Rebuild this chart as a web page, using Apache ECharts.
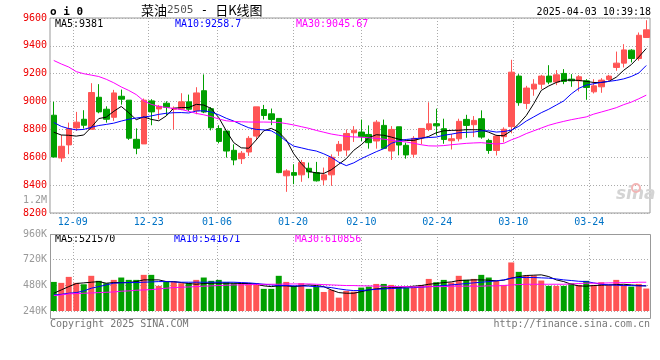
<!DOCTYPE html>
<html>
<head>
<meta charset="utf-8">
<script src="https://cdn.jsdelivr.net/npm/echarts/dist/echarts.min.js"></script>
<style>html,body{margin:0;padding:0;background:#fff;}#c{width:660px;height:360px;}</style>
</head>
<body>
<div id="c"></div>
<script>
const dates = ['12-04','12-05','12-06','12-09','12-10','12-11','12-12','12-13','12-16','12-17','12-18','12-19','12-20','12-23','12-24','12-25','12-26','12-27','12-30','12-31','01-02','01-03','01-06','01-07','01-08','01-09','01-10','01-13','01-14','01-15','01-16','01-17','01-20','01-21','01-22','01-23','01-24','01-27','02-05','02-06','02-07','02-10','02-11','02-12','02-13','02-14','02-17','02-18','02-19','02-20','02-21','02-24','02-25','02-26','02-27','02-28','03-03','03-04','03-05','03-06','03-07','03-10','03-11','03-12','03-13','03-14','03-17','03-18','03-19','03-20','03-21','03-24','03-25','03-26','03-27','03-28','03-31','04-01','04-02','04-03'];
const labelDates = ['12-09','12-23','01-06','01-20','02-10','02-24','03-10','03-24'];

const open = [8902,8595,8689,8811,8873,8801,9031,8945,8887,9038,
  9010,8729,8696,9005,8947,8988,8945,8945,8998,8935,
  9078,8949,8807,8788,8650,8590,8638,8752,8943,8912,
  8879,8467,8490,8474,8521,8490,8438,8474,8645,8652,
  8776,8781,8764,8717,8829,8645,8819,8686,8622,8740,
  8800,8841,8805,8719,8733,8872,8834,8877,8721,8649,
  8748,8820,9183,8987,9090,9125,9183,9140,9202,9161,
  9149,9149,9070,9106,9159,9245,9276,9369,9309,9460];
const close = [8602,8679,8806,8852,8830,9065,8926,8873,9062,9017,
  8737,8665,9010,8926,8966,8959,8952,8998,8945,9062,
  8925,8812,8714,8645,8581,8629,8736,8962,8900,8871,
  8490,8502,8471,8562,8495,8431,8474,8600,8693,8771,
  8795,8748,8705,8852,8664,8800,8688,8617,8736,8807,
  8840,8826,8728,8733,8858,8829,8865,8745,8649,8752,
  8801,9211,8992,9097,9125,9183,9140,9192,9144,9149,
  9178,9101,9113,9154,9183,9276,9371,9309,9476,9515];
const low = [8600,8567,8622,8789,8806,8801,8916,8849,8861,8978,
  8725,8622,8696,8830,8873,8902,8800,8938,8931,8909,
  8917,8793,8700,8598,8543,8552,8610,8724,8871,8831,
  8486,8352,8407,8424,8450,8426,8400,8395,8610,8610,
  8710,8717,8662,8662,8664,8581,8614,8590,8598,8693,
  8788,8757,8697,8656,8714,8740,8745,8733,8625,8613,
  8707,8772,8970,8946,9042,9090,9125,9118,9125,9106,
  9073,9013,9058,9063,9149,9221,9245,9281,9293,9460];
const high = [8998,8760,8849,8926,8938,9132,9125,8966,9084,9086,
  9010,8808,9022,9017,8976,9002,8965,9060,9050,9103,
  9195,8960,8830,8788,8693,8645,8752,8962,8976,8950,
  8879,8514,8550,8581,8562,8567,8526,8621,8717,8800,
  8824,8871,8829,8867,8871,8824,8819,8705,8752,8807,
  8995,8949,8877,8767,8877,8905,8896,8937,8733,8762,
  8815,9300,9197,9113,9161,9192,9261,9226,9233,9197,
  9190,9161,9161,9168,9192,9359,9412,9376,9496,9584];

const ma5 = [8780,8760,8758,8752,8760,8815,8878,8888,8930,8965,
  8920,8870,8890,8872,8862,8897,8952,8957,8957,8980,
  8975,8950,8885,8790,8705,8668,8665,8725,8790,8808,
  8780,8725,8625,8555,8498,8488,8484,8510,8550,8590,
  8650,8690,8740,8762,8758,8745,8730,8721,8721,8735,
  8750,8776,8790,8793,8794,8798,8798,8797,8780,8757,
  8755,8790,8840,8900,8985,9080,9112,9137,9154,9154,
  9152,9145,9137,9137,9145,9175,9225,9265,9320,9381];
const ma10 = [8850,8822,8806,8797,8800,8815,8828,8836,8845,8860,
  8873,8882,8888,8897,8908,8916,8920,8921,8918,8932,
  8934,8925,8905,8880,8860,8835,8812,8800,8797,8790,
  8760,8715,8680,8668,8655,8645,8625,8600,8565,8540,
  8560,8590,8615,8640,8662,8700,8718,8728,8733,8738,
  8742,8745,8758,8766,8776,8779,8781,8790,8790,8781,
  8785,8795,8822,8860,8890,8920,8945,8975,9005,9055,
  9095,9118,9128,9138,9145,9152,9163,9180,9205,9259];
const ma30 = [9295,9270,9248,9215,9200,9190,9180,9160,9135,9105,
  9080,9050,9005,8980,8965,8958,8950,8943,8930,8915,
  8905,8892,8875,8862,8857,8855,8853,8853,8853,8852,
  8850,8842,8832,8820,8808,8793,8780,8767,8758,8750,
  8746,8744,8740,8736,8730,8722,8715,8710,8700,8690,
  8682,8681,8684,8690,8695,8700,8703,8705,8700,8695,
  8700,8725,8745,8770,8790,8810,8830,8845,8858,8870,
  8880,8890,8910,8925,8940,8956,8978,8996,9020,9046];

// volume in thousands
const volume = [512,503,559,503,490,569,522,500,531,553,
  531,531,578,578,475,515,515,500,500,531,
  553,522,531,509,500,500,500,500,447,447,
  569,512,475,500,447,468,418,437,365,428,
  421,459,468,493,493,484,468,459,459,484,
  540,509,531,506,569,531,540,578,553,522,
  484,694,606,572,572,525,475,475,475,500,
  484,522,484,509,484,531,484,468,493,450];
const volMa5 = [406,437,468,497,503,509,515,500,506,506,
  506,515,531,531,531,515,515,506,497,490,
  497,500,500,500,500,497,497,490,475,468,
  475,475,468,475,484,478,468,437,412,406,
  406,421,437,447,453,459,459,465,472,478,
  490,497,506,512,525,528,531,531,528,522,
  528,547,562,572,575,578,562,531,515,490,
  475,472,478,481,484,487,490,484,478,475];
const volMa10 = [390,396,406,412,428,453,468,484,500,503,
  506,506,509,512,515,515,512,509,509,509,
  509,509,509,509,509,506,503,497,490,484,
  478,478,475,475,472,468,465,459,447,437,
  431,431,437,443,447,450,453,456,459,462,
  468,472,478,484,490,497,503,509,515,522,
  531,547,553,553,553,550,547,540,531,525,
  518,515,503,490,484,481,478,478,475,475];
const volMa30 = [384,390,400,403,406,409,412,415,418,425,
  428,434,437,440,447,453,459,462,465,468,
  472,475,478,481,484,484,487,487,490,490,
  490,493,493,493,493,490,487,484,481,478,
  478,475,475,472,472,468,468,468,465,465,
  468,468,468,472,472,472,472,472,475,475,
  478,484,487,490,490,490,490,490,490,493,
  497,500,500,500,503,503,506,506,509,509];

const priceMaTexts = ['MA5:9381','MA10:9258.7','MA30:9045.67'];
const volMaTexts = ['MA5:521570','MA10:541671','MA30:610856'];
const timeText = '2025-04-03 10:39:18';

const UP = '#ff5555', DOWN = '#00a000';
const MONO = 'DejaVu Sans Mono';
const labelSet = new Set(labelDates);
const pick = (i, v) => labelSet.has(v);
const dotted = { color: '#aaa', type: [1, 2], width: 1 };

const kData = dates.map((d, i) => [open[i], close[i], low[i], high[i]]);
const volData = dates.map((d, i) => ({
  value: volume[i] * 1000,
  itemStyle: { color: close[i] >= open[i] ? UP : DOWN }
}));
const k = a => a.map(v => v * 1000);

function txt(text, pos, style) {
  return Object.assign({ text: text, padding: 0, itemGap: 0,
    textStyle: Object.assign({ fontFamily: MONO, fontSize: 10, fontWeight: 'normal', color: '#000', lineHeight: 12 }, style || {}) }, pos);
}

const chart = echarts.init(document.getElementById('c'));
chart.setOption({
  animation: false,
  backgroundColor: '#fff',
  title: [
    txt('o i 0', { left: 50, top: 5 }, { fontWeight: 'bold', fontSize: 11, lineHeight: 14 }),
    { text: '{c|菜油}{n|2505}{d| - }{c|日K线图}', left: 141, top: 2, padding: 0,
      textStyle: { fontWeight: 'normal', rich: {
        c: { fontFamily: 'Noto Sans CJK SC', fontSize: 13, fontWeight: 'normal', color: '#000', lineHeight: 17 },
        n: { fontFamily: MONO, fontSize: 11, fontWeight: 'normal', color: '#555', lineHeight: 17 },
        d: { fontFamily: MONO, fontSize: 12, fontWeight: 'normal', color: '#000', lineHeight: 17 } } } },
    txt(timeText, { right: 9, top: 6 }),
    txt(priceMaTexts[0], { left: 55, top: 18 }, { color: '#000' }),
    txt(priceMaTexts[1], { left: 175, top: 18 }, { color: '#0000ff' }),
    txt(priceMaTexts[2], { left: 296, top: 18 }, { color: '#ff00ff' }),
    txt(volMaTexts[0], { left: 55, top: 233 }, { color: '#000' }),
    txt(volMaTexts[1], { left: 174, top: 233 }, { color: '#0000ff' }),
    txt(volMaTexts[2], { left: 295, top: 233 }, { color: '#ff00ff' }),
    txt('1.2M', { right: 613, top: 194 }, { color: '#999' }),
    txt('Copyright 2025 SINA.COM', { left: 50, top: 318 }, { color: '#777' }),
    txt('http://finance.sina.com.cn', { right: 10, top: 318 }, { color: '#777' }),
    { text: 'sina', left: 616, top: 186, padding: 0,
      textStyle: { fontFamily: 'DejaVu Sans', fontStyle: 'italic', fontWeight: 'bold', fontSize: 17, color: '#d4d4d4' } }
  ],
  graphic: [
    { type: 'rect', silent: true, z: 100,
      shape: { x: 50.5, y: 234.5, width: 600, height: 84 },
      style: { fill: 'none', stroke: '#999', lineWidth: 1 } },
    { type: 'circle', silent: true, z: 100,
      shape: { cx: 636, cy: 188, r: 4 },
      style: { fill: 'none', stroke: '#f3b5b5', lineWidth: 2 } }
  ],
  grid: [
    { left: 50, top: 18, width: 600, height: 195, show: true, borderColor: '#999', borderWidth: 1, backgroundColor: 'transparent' },
    { left: 50, top: 234, width: 600, height: 77, show: false }
  ],
  xAxis: [
    { type: 'category', gridIndex: 0, data: dates, boundaryGap: true, show: false },
    { type: 'category', gridIndex: 0, data: dates, boundaryGap: false, position: 'bottom',
      axisLine: { show: false }, axisTick: { show: false },
      axisLabel: { interval: pick, color: '#0073c6', fontSize: 10, fontFamily: MONO, margin: 4 },
      splitLine: { show: true, interval: pick, lineStyle: dotted } },
    { type: 'category', gridIndex: 1, data: dates, boundaryGap: true, show: false },
    { type: 'category', gridIndex: 1, data: dates, boundaryGap: false, position: 'bottom',
      axisLine: { show: false }, axisTick: { show: false }, axisLabel: { show: false },
      splitLine: { show: true, interval: pick, lineStyle: dotted } }
  ],
  yAxis: [
    { type: 'value', gridIndex: 0, min: 8200, max: 9600, interval: 200, scale: true,
      axisLine: { show: false }, axisTick: { show: false },
      axisLabel: { color: '#ee0000', fontSize: 10, fontFamily: MONO, margin: 3, formatter: v => String(v) },
      splitLine: { show: true, lineStyle: dotted } },
    { type: 'value', gridIndex: 1, min: 240000, max: 960000, interval: 240000, scale: true,
      axisLine: { show: false }, axisTick: { show: false },
      axisLabel: { color: '#999', fontSize: 10, fontFamily: MONO, margin: 3, formatter: v => (v / 1000) + 'K' },
      splitLine: { show: true, lineStyle: dotted } }
  ],
  series: [
    { type: 'candlestick', xAxisIndex: 0, yAxisIndex: 0, data: kData, barWidth: 6, silent: true,
      itemStyle: { color: UP, color0: DOWN, borderColor: UP, borderColor0: DOWN, borderWidth: 1 } },
    { type: 'line', xAxisIndex: 0, yAxisIndex: 0, data: ma5, symbol: 'none', silent: true, lineStyle: { color: '#000', width: 1 } },
    { type: 'line', xAxisIndex: 0, yAxisIndex: 0, data: ma10, symbol: 'none', silent: true, lineStyle: { color: '#0000ff', width: 1 } },
    { type: 'line', xAxisIndex: 0, yAxisIndex: 0, data: ma30, symbol: 'none', silent: true, lineStyle: { color: '#ff00ff', width: 1 } },
    { type: 'bar', xAxisIndex: 2, yAxisIndex: 1, data: volData, barWidth: 6, silent: true, clip: true },
    { type: 'line', xAxisIndex: 2, yAxisIndex: 1, data: k(volMa5), symbol: 'none', silent: true, lineStyle: { color: '#000', width: 1 } },
    { type: 'line', xAxisIndex: 2, yAxisIndex: 1, data: k(volMa10), symbol: 'none', silent: true, lineStyle: { color: '#0000ff', width: 1 } },
    { type: 'line', xAxisIndex: 2, yAxisIndex: 1, data: k(volMa30), symbol: 'none', silent: true, lineStyle: { color: '#ff00ff', width: 1 } }
  ]
});
</script>
</body>
</html>
